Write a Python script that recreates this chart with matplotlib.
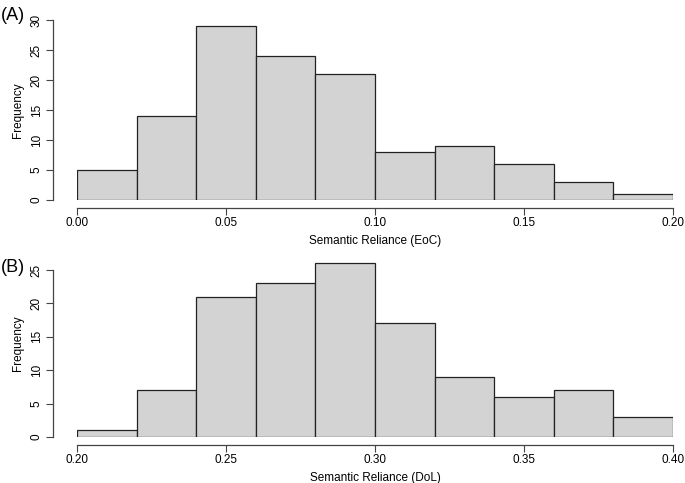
import matplotlib
matplotlib.use("Agg")
import matplotlib.pyplot as plt
import numpy as np

plt.rcParams['font.family'] = ['Liberation Sans', 'DejaVu Sans']

# Data
edges_a = [0.00, 0.02, 0.04, 0.06, 0.08, 0.10, 0.12, 0.14, 0.16, 0.18, 0.20]
counts_a = [5, 14, 29, 24, 21, 8, 9, 6, 3, 1]
xticks_a = [0.00, 0.05, 0.10, 0.15, 0.20]
yticks_a = [0, 5, 10, 15, 20, 25, 30]

edges_b = [0.20, 0.22, 0.24, 0.26, 0.28, 0.30, 0.32, 0.34, 0.36, 0.38, 0.40]
counts_b = [1, 7, 21, 23, 26, 17, 9, 6, 7, 3]
xticks_b = [0.20, 0.25, 0.30, 0.35, 0.40]
yticks_b = [0, 5, 10, 15, 20, 25]

W, H = 685, 483
fig = plt.figure(figsize=(W / 100, H / 100), dpi=100)

def px_axes(x0, x1, ytop, ybot):
    return fig.add_axes([x0 / W, 1 - ybot / H, (x1 - x0) / W, (ybot - ytop) / H])

def draw(ax, edges, counts, xticks, yticks, xlabel, ymax, letter, letter_y):
    e = np.array(edges)
    ax.bar(e[:-1], counts, width=np.diff(e), align='edge', color='#D3D3D3',
           edgecolor='#222222', linewidth=0.9)
    ax.set_xlim(edges[0], edges[-1])
    ax.set_ylim(0, ymax)
    for s in ['top', 'right']:
        ax.spines[s].set_visible(False)
    ax.spines['left'].set_position(('outward', 24 * 0.72))
    ax.spines['bottom'].set_position(('outward', 8 * 0.72))
    ax.spines['left'].set_bounds(yticks[0], yticks[-1])
    ax.spines['bottom'].set_bounds(xticks[0], xticks[-1])
    for s in ['left', 'bottom']:
        ax.spines[s].set_color('#444444')
        ax.spines[s].set_linewidth(0.9)
    ax.set_xticks(xticks)
    ax.set_xticklabels([f"{v:.2f}" for v in xticks])
    ax.set_yticks(yticks)
    ax.set_yticklabels([str(v) for v in yticks], rotation=90, va='center')
    ax.tick_params(axis='x', pad=1.5)
    ax.tick_params(axis='y', pad=2.5)
    ax.tick_params(axis='both', direction='out', length=5, width=0.8,
                   labelsize=8.5, colors='#444444', labelcolor='black')
    ax.set_xlabel(xlabel, fontsize=8.5, labelpad=4.5)
    ax.set_ylabel('Frequency', fontsize=8.5, labelpad=5)
    ax.set_facecolor('none')
    fig.text(1 / W, 1 - letter_y / H, letter, fontsize=13, va='center', ha='left')

ax1 = px_axes(77, 673, 20, 200)
draw(ax1, edges_a, counts_a, xticks_a, yticks_a, 'Semantic Reliance (EoC)', 30, '(A)', 15)

scale_b = 6.68
ax2 = px_axes(77, 673, 437 - 28 * scale_b, 437)
draw(ax2, edges_b, counts_b, xticks_b, yticks_b, 'Semantic Reliance (DoL)', 28, '(B)', 267)

fig.savefig('out.png', dpi=100)
